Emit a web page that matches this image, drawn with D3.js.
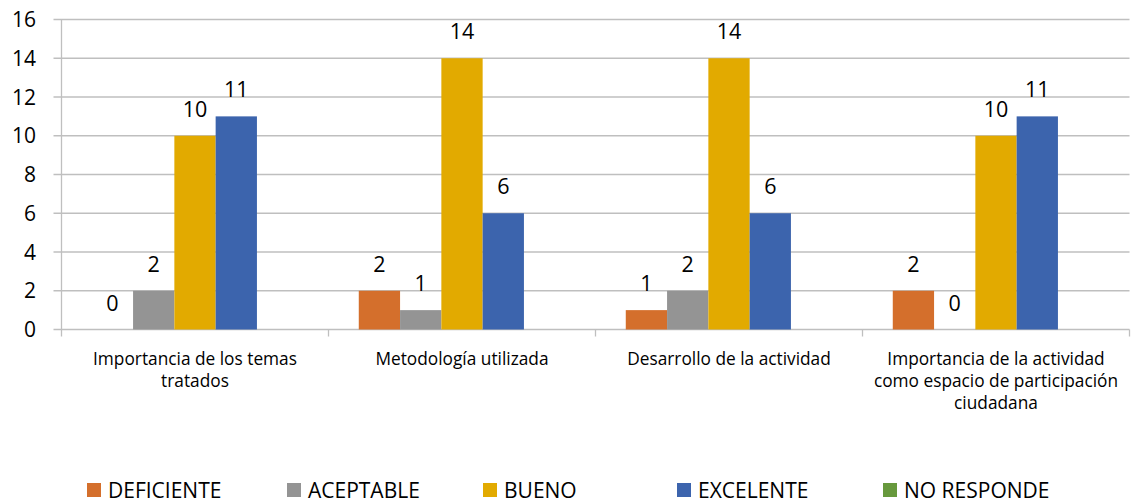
<!DOCTYPE html>
<html>
<head>
<meta charset="utf-8">
<script src="https://cdn.jsdelivr.net/npm/d3@7"></script>
<style>
	body { margin: 0; background: #fff; }
	svg text { font-family: "Open Sans", Lato, sans-serif; fill: #000; }
</style>
</head>
<body>
<svg id="chart" width="1132" height="502"></svg>
<script>
var categories = [
	['Importancia de los temas', 'tratados'],
	['Metodología utilizada'],
	['Desarrollo de la actividad'],
	['Importancia de la actividad', 'como espacio de participación', 'ciudadana']
];
var seriesNames = ['DEFICIENTE', 'ACEPTABLE', 'BUENO', 'EXCELENTE', 'NO RESPONDE'];
var seriesColors = ['#D46F2C', '#949494', '#E2AA00', '#3C64AD', '#67993D'];
var deficiente = [0, 2, 1, 2];
var aceptable = [2, 1, 2, 0];
var bueno = [10, 14, 14, 10];
var excelente = [11, 6, 6, 11];
var noResponde = [null, null, null, null];
var yTicks = [0, 2, 4, 6, 8, 10, 12, 14, 16];

var seriesValues = [deficiente, aceptable, bueno, excelente, noResponde];

var svg = d3.select('#chart');
var plotLeft = 61.5, plotRight = 1129.5, plotTop = 19.5, plotBottom = 329.5;

var x0 = d3.scaleBand()
	.domain(d3.range(categories.length))
	.range([plotLeft, plotRight]);

var x1 = d3.scaleBand()
	.domain(d3.range(seriesNames.length))
	.range([0, x0.bandwidth()])
	.paddingOuter(0.733);

var y = d3.scaleLinear()
	.domain([0, 16])
	.range([plotBottom, plotTop]);

//gridlines
svg.append('g')
	.selectAll('line')
	.data(yTicks)
	.enter()
	.append('line')
	.attr('x1', plotLeft - 8)
	.attr('x2', plotRight)
	.attr('y1', function(d) { return y(d); })
	.attr('y2', function(d) { return y(d); })
	.attr('stroke', '#BFBFBF')
	.attr('stroke-width', 1.3);

//y axis labels
svg.append('g')
	.selectAll('text')
	.data(yTicks)
	.enter()
	.append('text')
	.attr('x', 36)
	.attr('y', function(d) { return y(d); })
	.attr('dy', '0.36em')
	.attr('text-anchor', 'end')
	.style('font-size', '21px')
	.text(function(d) { return d; });

//vertical axis line + category ticks
svg.append('line')
	.attr('x1', plotLeft).attr('x2', plotLeft)
	.attr('y1', plotTop).attr('y2', plotBottom + 7)
	.attr('stroke', '#BFBFBF')
	.attr('stroke-width', 1.3);

svg.append('g')
	.selectAll('line')
	.data(d3.range(1, categories.length + 1))
	.enter()
	.append('line')
	.attr('x1', function(i) { return plotLeft + i * x0.bandwidth(); })
	.attr('x2', function(i) { return plotLeft + i * x0.bandwidth(); })
	.attr('y1', plotBottom)
	.attr('y2', plotBottom + 7)
	.attr('stroke', '#BFBFBF')
	.attr('stroke-width', 1.3);

//bars
var groups = svg.append('g')
	.selectAll('g')
	.data(categories)
	.enter()
	.append('g')
	.attr('transform', function(d, i) { return 'translate(' + x0(i) + ',0)'; });

groups.each(function(cat, ci)
{
	var g = d3.select(this);
	for(var s = 0; s < seriesNames.length; s++)
	{
		var v = seriesValues[s][ci];
		if(v === null) continue;
		g.append('rect')
			.attr('x', x1(s))
			.attr('y', y(v))
			.attr('width', x1.bandwidth())
			.attr('height', y(0) - y(v))
			.attr('fill', seriesColors[s]);
		g.append('text')
			.attr('x', x1(s) + x1.bandwidth() / 2)
			.attr('y', y(v) - 19)
			.attr('text-anchor', 'middle')
			.style('font-size', '21.5px')
			.text(v);
	}
});

//category labels
groups.each(function(cat, ci)
{
	var t = d3.select(this).append('text')
		.attr('text-anchor', 'middle')
		.style('font-size', '17.3px');
	for(var k = 0; k < cat.length; k++)
	{
		t.append('tspan')
			.attr('x', x0.bandwidth() / 2)
			.attr('y', 365 + k * 22)
			.text(cat[k]);
	}
});

//legend
var legendX = [87, 287, 483, 677, 883];
var legend = svg.append('g')
	.selectAll('g')
	.data(seriesNames)
	.enter()
	.append('g')
	.attr('transform', function(d, i) { return 'translate(' + legendX[i] + ',483)'; });

legend.append('rect')
	.attr('width', 14)
	.attr('height', 14)
	.attr('fill', function(d, i) { return seriesColors[i]; });

legend.append('text')
	.attr('x', 21)
	.attr('y', 14.5)
	.style('font-size', '21px')
	.text(function(d) { return d; });
</script>
</body>
</html>
